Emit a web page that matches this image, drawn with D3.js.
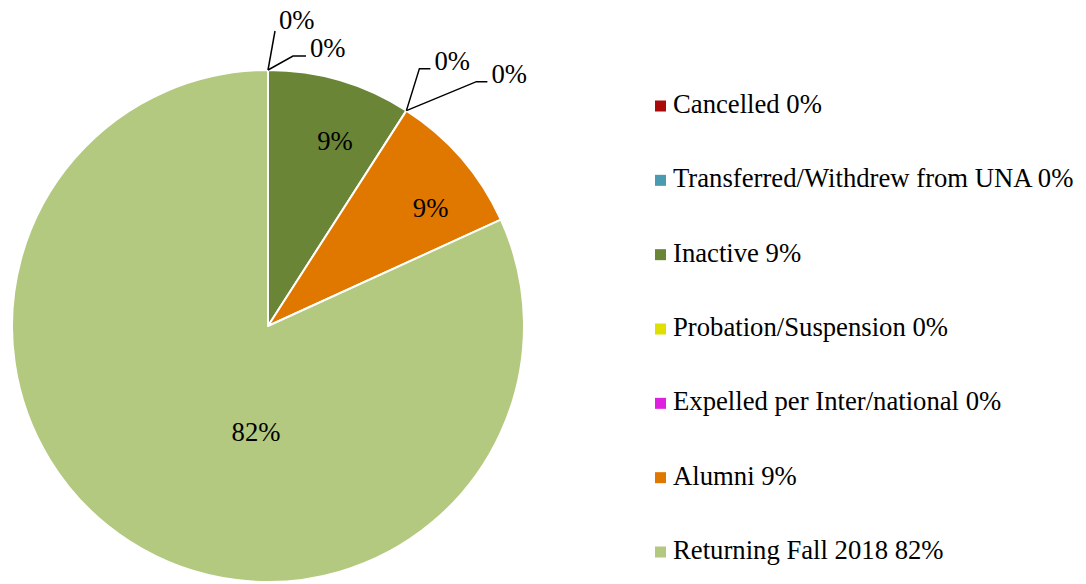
<!DOCTYPE html>
<html>
<head>
<meta charset="utf-8">
<script src="https://cdn.jsdelivr.net/npm/d3@7"></script>
<style>
  html, body { margin: 0; padding: 0; background: #fff; }
  svg { display: block; }
</style>
</head>
<body>
<svg id="chart" width="1086" height="584" style="font-family:'Liberation Serif'"></svg>
<script>
// chart data
var categories = ["Cancelled", "Transferred/Withdrew from UNA", "Inactive",
  "Probation/Suspension", "Expelled per Inter/national", "Alumni", "Returning Fall 2018"];
var counts = [0, 0, 1, 0, 0, 1, 9];
var colors = ["#aa0a0a", "#4a9ab0", "#6a8536", "#e0e000", "#e020e0", "#e07800", "#b3c97f"];

// layout
var cx = 268, cy = 326, R = 256;
var fontSize = 26.7;
var serif = "'Liberation Serif'";
// label placement for non-zero slices: [angle deg, radius]
var labelPolar = { 2: [19.9, 197], 5: [54, 201], 6: [186.5, 106] };
// leader line for zero slices: [elbow dx, elbow dy, tail length]
var leaders = { 0: [7, -39, 0], 1: [25, -14, 13], 3: [13, -42, 11], 4: [70, -29, 11] };

var svg = d3.select("#chart");
var total = d3.sum(counts);
var pct = function(v) { return Math.round(v / total * 100) + "%"; };

var pie = d3.pie().sort(null).value(function(d) { return d; });
var arcs = pie(counts);
var arc = d3.arc().innerRadius(0).outerRadius(R);

var g = svg.append("g").attr("transform", "translate(" + cx + "," + cy + ")");

g.selectAll("path.slice")
  .data(arcs.filter(function(d) { return d.value > 0; }))
  .join("path")
    .attr("class", "slice")
    .attr("d", arc)
    .attr("fill", function(d) { return colors[d.index]; })
    .attr("stroke", "#fff")
    .attr("stroke-width", 2)
    .attr("stroke-linejoin", "round");

// labels
arcs.forEach(function(d, i) {
  if (d.value > 0) {
    var p = labelPolar[i];
    var a = p[0] * Math.PI / 180;
    g.append("text")
      .attr("x", p[1] * Math.sin(a))
      .attr("y", -p[1] * Math.cos(a))
      .attr("text-anchor", "middle")
      .attr("dy", "0.35em")
      .style("font-family", serif)
      .attr("font-size", fontSize)
      .text(pct(d.value));
  } else {
    var a0 = d.startAngle;
    var x0 = R * Math.sin(a0), y0 = -R * Math.cos(a0);
    var L = leaders[i];
    var x1 = x0 + L[0], y1 = y0 + L[1], x2 = x1 + L[2];
    g.append("polyline")
      .attr("points", [[x0, y0], [x1, y1], [x2, y1]].map(function(p) { return p.join(","); }).join(" "))
      .attr("fill", "none")
      .attr("stroke", "#000")
      .attr("stroke-width", 1.5);
    g.append("text")
      .attr("x", x2 + 4)
      .attr("y", y1 + (L[2] ? 1 : -2))
      .style("font-family", serif)
      .attr("font-size", fontSize)
      .text(pct(d.value));
  }
});

// legend
var legendY = d3.scalePoint().domain(d3.range(categories.length)).range([106, 552]);
var leg = svg.append("g").selectAll("g")
  .data(categories)
  .join("g")
    .attr("transform", function(d, i) { return "translate(655," + legendY(i) + ")"; });

leg.append("rect")
  .attr("x", 0).attr("y", -5.5)
  .attr("width", 11).attr("height", 11)
  .attr("fill", function(d, i) { return colors[i]; });

leg.append("text")
  .attr("x", 18)
  .attr("y", 7)
  .style("font-family", serif)
  .attr("font-size", fontSize)
  .text(function(d, i) { return d + " " + pct(counts[i]); });
</script>
</body>
</html>
